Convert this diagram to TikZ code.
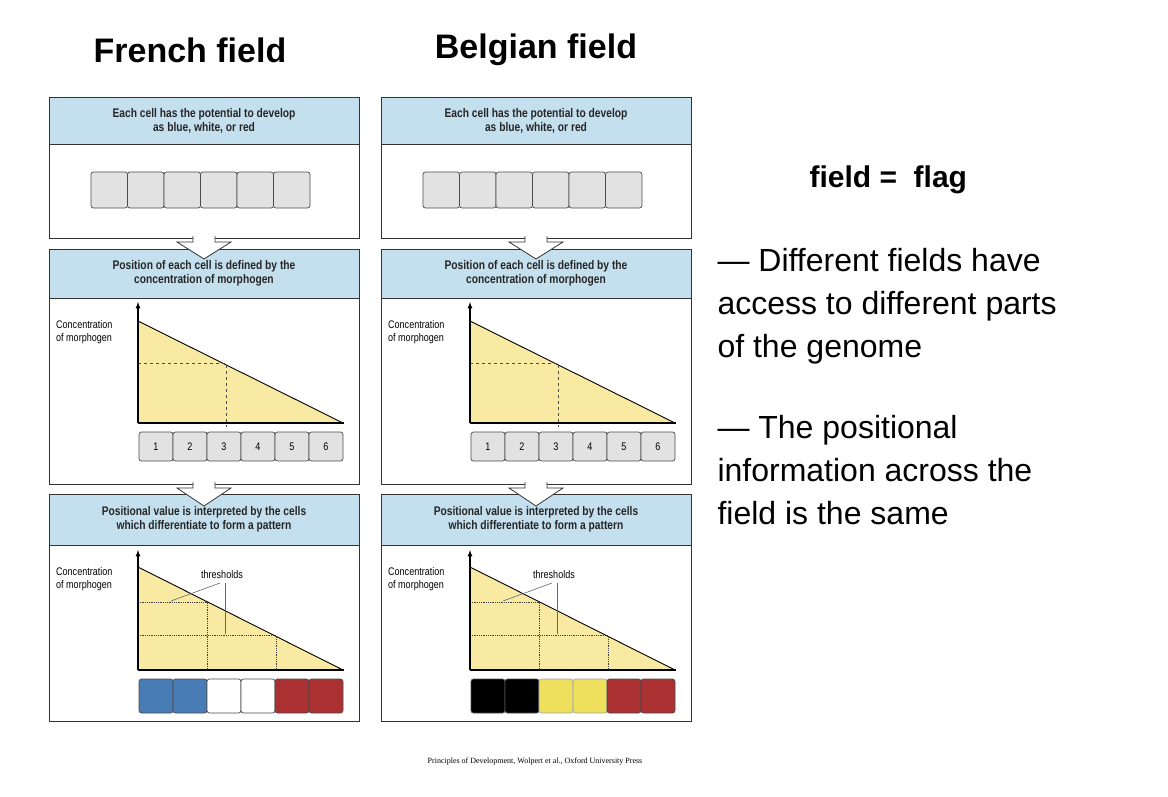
\documentclass[tikz,border=0pt]{standalone}
\usepackage{fontspec}
\setmainfont{Liberation Sans}
\newfontfamily\cond[FakeStretch=0.82]{Liberation Sans}
\newfontfamily\capfont{Liberation Serif}
\definecolor{hdr}{RGB}{196,223,237}
\definecolor{yel}{RGB}{248,234,163}
\definecolor{cellg}{RGB}{226,226,226}
\definecolor{cblue}{RGB}{72,124,180}
\definecolor{cred}{RGB}{170,48,50}
\definecolor{cyel}{RGB}{238,224,92}
\tikzset{
 panelbox/.style={draw=black!80,line width=0.8pt,fill=white},
 hdrbox/.style={draw=black!80,line width=0.8pt,fill=hdr},
 hdrtxt/.style={font=\cond\bfseries\fontsize{12.5}{14}\selectfont,align=center,text=black!85},
 axlbl/.style={font=\cond\fontsize{11}{13}\selectfont,align=left,anchor=north west,inner sep=0pt},
 cellbox/.style={draw=black!70,line width=0.7pt,rounded corners=2.5pt},
 hollowarrow/.style={draw=black!80,line width=0.8pt,fill=white},
 numtxt/.style={font=\cond\fontsize{11}{13}\selectfont}
}
\newcommand\flagpanel[2]{%
\begin{scope}[xshift=#1]
 % top panel
 \draw[panelbox] (49,97) rectangle (359,238);
 \draw[hdrbox] (49,97) rectangle (359,144);
 \node[hdrtxt] (h1) at (204,120.5) {Each cell has the potential to develop\\as blue, white, or red};
 \foreach \i in {0,...,5}{\draw[cellbox,fill=cellg] (91+36.5*\i,172) rectangle ++(36.5,36);}
 % middle panel
 \draw[panelbox] (49,249) rectangle (359,484);
 \draw[hdrbox] (49,249) rectangle (359,298);
 \node[hdrtxt] (h2) at (204,273.5) {Position of each cell is defined by the\\concentration of morphogen};
 \draw[hollowarrow] (193,236) -- (193,242) -- (177,242) -- (204,259) -- (231,242) -- (215,242) -- (215,236);
 \fill[yel] (138,321) -- (343,423) -- (138,423) -- cycle;
 \draw[line width=0.9pt] (138,321) -- (343,423);
 \draw[dashed,black!70,line width=0.7pt] (138,363) -- (226,363) -- (226,427);
 \draw[line width=1.2pt,-latex] (138,423) -- (138,302);
 \draw[line width=1.2pt] (138,423) -- (344,423);
 \node[axlbl] (l2) at (56,320) {Concentration\\of morphogen};
 \foreach \i in {1,...,6}{\draw[cellbox,fill=cellg] (139+34*\i-34,432) rectangle ++(34,29);
   \node[numtxt] at (139+34*\i-17,446.5) {\i};}
 % bottom panel
 \draw[panelbox] (49,494) rectangle (359,721);
 \draw[hdrbox] (49,494) rectangle (359,545);
 \node[hdrtxt] (h3) at (204,519.5) {Positional value is interpreted by the cells\\which differentiate to form a pattern};
 \draw[hollowarrow] (193,482) -- (193,488) -- (177,488) -- (204,506) -- (231,488) -- (215,488) -- (215,482);
 \fill[yel] (138,567) -- (343,670) -- (138,670) -- cycle;
 \draw[line width=0.9pt] (138,567) -- (343,670);
 \draw[densely dotted,black!75,line width=0.8pt] (138,602) -- (207,602) -- (207,670);
 \draw[densely dotted,black!75,line width=0.8pt] (138,635) -- (276,635) -- (276,670);
 \draw[line width=1.2pt,-latex] (138,670) -- (138,550);
 \draw[line width=1.2pt] (138,670) -- (344,670);
 \node[axlbl] (l3) at (56,567) {Concentration\\of morphogen};
 \node[numtxt] (th) at (222,575) {thresholds};
 \draw[black!60,line width=0.6pt] (220,583) -- (171,601);
 \draw[black!60,line width=0.6pt] (225,583) -- (225,634);
 \foreach \f/\b [count=\i] in {#2}{\draw[cellbox,fill=\f,draw=\b] (139+34*\i-34,679) rectangle ++(34,34);}
\end{scope}}
\begin{document}
\begin{tikzpicture}[x=1pt,y=-1pt]
\useasboundingbox (0,0) rectangle (1168,796);
\node[font=\bfseries\fontsize{34}{38}\selectfont] (t1) at (190,50) {French field};
\node[font=\bfseries\fontsize{34}{38}\selectfont] (t2) at (536,50) {Belgian field};
\flagpanel{0}{cblue/black!70,cblue/black!70,white/black!70,white/black!70,cred/black!70,cred/black!70}
\flagpanel{332}{black/black!70,black/black!70,cyel/black!35,cyel/black!35,cred/black!70,cred/black!70}
\node[font=\bfseries\fontsize{30}{34}\selectfont,anchor=west] (fe) at (806,180) {field =\ \ flag};
\node[font=\fontsize{32}{43}\selectfont,align=left,anchor=north west] (b1) at (714,245) {— Different fields have\\access to different parts\\of the genome};
\node[font=\fontsize{32}{43}\selectfont,align=left,anchor=north west] (b2) at (714,412) {— The positional\\information across the\\field is the same};
\node[font=\capfont\fontsize{8}{10}\selectfont] (cap) at (535,762) {Principles of Development, Wolpert et al., Oxford University Press};
\end{tikzpicture}
\end{document}
